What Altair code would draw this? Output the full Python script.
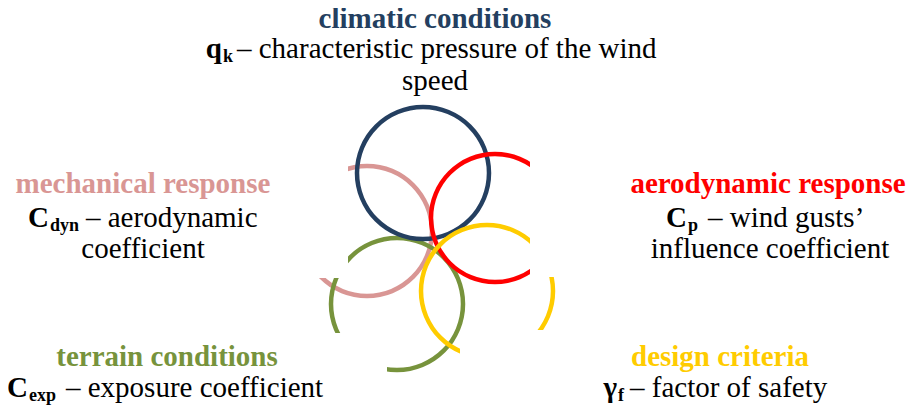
import math
import altair as alt
import pandas as pd

W, H = 898, 398

# circles (drawing order: pink, green, navy, red, yellow)
circle_names = ["mechanical response", "terrain conditions", "climatic conditions",
                "aerodynamic response", "design criteria"]
circle_cx = [367, 397, 423, 495, 487]
circle_cy = [231, 304, 173, 218, 291]
circle_r = [65, 66, 66, 64, 66]
palette = ["#D99694", "#77933C", "#243F60", "#FF0000", "#FFCC00"]

# white label boxes that hide parts of the rings
box_x1 = [8, 8, 530, 460]
box_x2 = [348, 387, 906, 906]
box_y1 = [140, 333, 140, 330]
box_y2 = [278, 406, 277, 406]

# coloured headings
title_text = ["climatic conditions", "mechanical response", "aerodynamic response",
              "terrain conditions", "design criteria"]
title_x = [435, 143, 768, 167, 720]
title_y = [28, 193, 193, 366, 366]

# description lines: symbol + subscript + rest
sym_text = ["q", "C", "C", "C", "γ"]
sub_text = ["k", "dyn", "p", "exp", "f"]
rest_text = ["– characteristic pressure of the wind", "– aerodynamic", "– wind gusts’",
             "– exposure coefficient", "– factor of safety"]
sym_x = [222, 49, 687, 28, 617]
rest_x = [237, 86, 708, 66, 630]
desc_y = [58, 227, 227, 397, 397]

# continuation lines
extra_text = ["speed", "coefficient", "influence coefficient"]
extra_x = [435, 143, 770]
extra_y = [90, 258, 258]

STROKE = 4.5
FONT = "'Liberation Serif', 'Times New Roman', Times, serif"
FS = 29
SUBFS = 18

xs = alt.Scale(domain=[8, 906], nice=False, zero=False)
ys = alt.Scale(domain=[8, 406], nice=False, zero=False, reverse=True)
cscale = alt.Scale(domain=circle_names, range=palette)

circles = pd.DataFrame({"name": circle_names, "cx": circle_cx, "cy": circle_cy, "r": circle_r})
boxes = pd.DataFrame({"x1": box_x1, "x2": box_x2, "y1": box_y1, "y2": box_y2})
titles = pd.DataFrame({"name": title_text, "x": title_x, "y": title_y})
syms = pd.DataFrame({"t": sym_text, "x": sym_x, "y": desc_y})
subs = pd.DataFrame({"t": sub_text, "x": sym_x, "y": desc_y})
rests = pd.DataFrame({"t": rest_text, "x": rest_x, "y": desc_y})
extras = pd.DataFrame({"t": extra_text, "x": extra_x, "y": extra_y})

ring_layers = []
for i in range(len(circle_names)):
    ring_layers.append(
        alt.Chart(circles.iloc[[i]]).transform_calculate(
            ro=f"datum.r + {STROKE/2}", ri=f"datum.r - {STROKE/2}"
        ).mark_arc(theta=0, theta2=2 * math.pi).encode(
            x=alt.X("cx:Q", scale=xs, axis=None),
            y=alt.Y("cy:Q", scale=ys, axis=None),
            radius=alt.Radius("ro:Q", scale=None),
            radius2=alt.Radius2("ri:Q"),
            color=alt.Color("name:N", scale=cscale, legend=None),
        )
    )

masks = alt.Chart(boxes).mark_rect(color="white").encode(
    x=alt.X("x1:Q", scale=xs, axis=None), x2="x2:Q",
    y=alt.Y("y1:Q", scale=ys, axis=None), y2="y2:Q",
)

title_layer = alt.Chart(titles).mark_text(
    font=FONT, fontSize=FS, fontWeight="bold", align="center", baseline="alphabetic"
).encode(
    x=alt.X("x:Q", scale=xs, axis=None), y=alt.Y("y:Q", scale=ys, axis=None),
    text="name:N", color=alt.Color("name:N", scale=cscale, legend=None),
)

sym_layer = alt.Chart(syms).mark_text(
    font=FONT, fontSize=FS, fontWeight="bold", align="right", baseline="alphabetic", color="black"
).encode(x=alt.X("x:Q", scale=xs, axis=None), y=alt.Y("y:Q", scale=ys, axis=None), text="t:N")

sub_layer = alt.Chart(subs).mark_text(
    font=FONT, fontSize=SUBFS, fontWeight="bold", align="left", baseline="alphabetic",
    color="black", dy=4, dx=1
).encode(x=alt.X("x:Q", scale=xs, axis=None), y=alt.Y("y:Q", scale=ys, axis=None), text="t:N")

rest_layer = alt.Chart(rests).mark_text(
    font=FONT, fontSize=FS, align="left", baseline="alphabetic", color="black"
).encode(x=alt.X("x:Q", scale=xs, axis=None), y=alt.Y("y:Q", scale=ys, axis=None), text="t:N")

extra_layer = alt.Chart(extras).mark_text(
    font=FONT, fontSize=FS, align="center", baseline="alphabetic", color="black"
).encode(x=alt.X("x:Q", scale=xs, axis=None), y=alt.Y("y:Q", scale=ys, axis=None), text="t:N")

chart = alt.layer(
    *ring_layers, masks, title_layer, sym_layer, sub_layer, rest_layer, extra_layer
).properties(
    width=W, height=H, padding=0, autosize=alt.AutoSizeParams(type="none"),
    background="white",
).configure_view(stroke=None)

chart.save("out.html", embed_options={"renderer": "svg", "actions": False})
